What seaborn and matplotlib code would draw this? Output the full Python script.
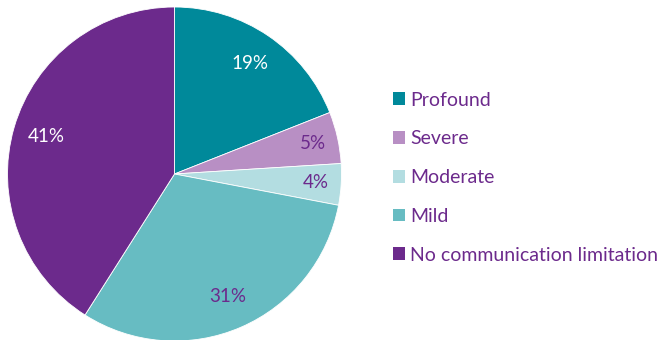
import matplotlib
matplotlib.use("Agg")
import matplotlib.pyplot as plt
import seaborn as sns
import numpy as np

sns.set_theme(style="white")
plt.rcParams["font.family"] = ["Lato", "DejaVu Sans"]

categories = ["Profound", "Severe", "Moderate", "Mild", "No communication limitation"]
shares = [19, 5, 4, 31, 41]
colors = ["#00899A", "#B88FC4", "#B3DDE1", "#67BCC2", "#6C2A8C"]
label_colors = ["white", "#6C2A8C", "#6C2A8C", "#6C2A8C", "white"]
label_dist = [0.8, 0.85, 0.85, 0.8, 0.8]

W, H = 664, 340
fig = plt.figure(figsize=(W / 100, H / 100), dpi=100)
cx, cy, r = 174.5, 174, 167
ax = fig.add_axes([(cx - r) / W, (H - cy - r) / H, 2 * r / W, 2 * r / H])

wedges, _ = ax.pie(shares, colors=colors, startangle=90, counterclock=False,
                   radius=1, wedgeprops=dict(edgecolor="white", linewidth=0.6))
ax.set_xlim(-1, 1)
ax.set_ylim(-1, 1)
ax.set_aspect("equal")
ax.axis("off")

# percentage labels inside each wedge
for w, val, col, d in zip(wedges, shares, label_colors, label_dist):
    mid = np.deg2rad((w.theta1 + w.theta2) / 2)
    ax.text(d * np.cos(mid), d * np.sin(mid), f"{val}%", ha="center", va="center",
            color=col, fontsize=13.5)

leg = fig.legend(wedges, categories, loc="upper left",
                 bbox_to_anchor=(375 / W, 1 - 74 / H), frameon=False,
                 handlelength=0.62, handleheight=0.62, handletextpad=0.3,
                 labelspacing=1.12, fontsize=14, labelcolor="#6C2A8C")
for h in leg.legend_handles:
    h.set_edgecolor("none")

fig.savefig("out.png", dpi=100)
